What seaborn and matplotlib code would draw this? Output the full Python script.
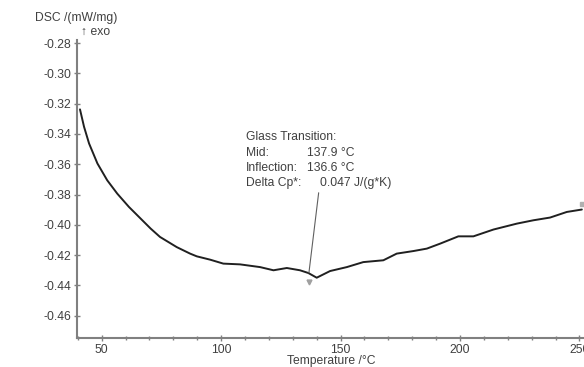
import numpy as np
import pandas as pd
import matplotlib
matplotlib.use('Agg')
import matplotlib.pyplot as plt
import seaborn as sns
from matplotlib.ticker import MultipleLocator

# DSC curve
temperature = [40.9, 42.6, 44.7, 48.2, 52.3, 56.5, 61.4, 66.3, 70.5, 74.4,
               81.4, 87.0, 89.8, 95.4, 100.9, 107.9, 116.3, 121.9, 127.5, 133.0,
               136.5, 140.0, 145.6, 152.6, 159.5, 167.9, 173.5, 180.5, 186.1, 191.7,
               199.3, 205.6, 214.0, 223.8, 230.7, 237.7, 244.7, 251.0]
dsc = [-0.3238, -0.3353, -0.3463, -0.3595, -0.3706, -0.3794, -0.3882, -0.3959, -0.4025, -0.4080,
       -0.4147, -0.4190, -0.4208, -0.4230, -0.4256, -0.4261, -0.4279, -0.4300, -0.4285, -0.4300,
       -0.4318, -0.4349, -0.4305, -0.4279, -0.4246, -0.4234, -0.4190, -0.4173, -0.4157, -0.4124,
       -0.4076, -0.4076, -0.4031, -0.3992, -0.3970, -0.3952, -0.3915, -0.3899]

annot_lines = ['Glass Transition:', 'Mid:', 'Inflection:', 'Delta Cp*:']
annot_values = ['', '137.9 °C', '136.6 °C', '0.047 J/(g*K)']

df = pd.DataFrame({'Temperature': temperature, 'DSC': dsc})

sns.set_style('ticks')
plt.rcParams['font.family'] = ['Liberation Sans', 'DejaVu Sans']
grey = '#404040'
fs = 8.7

fig = plt.figure(figsize=(5.84, 3.67), dpi=100)
ax = fig.add_axes([77 / 584, 1 - 338 / 367, 1 - 77 / 584, (338 - 40) / 367])

sns.lineplot(data=df, x='Temperature', y='DSC', ax=ax, color='#202020', linewidth=1.4)

ax.set_xlim(39.65, 251.9)
ax.set_ylim(-0.4747, -0.278)
ax.xaxis.set_major_locator(MultipleLocator(50))
ax.xaxis.set_minor_locator(MultipleLocator(10))
ax.yaxis.set_major_locator(MultipleLocator(0.02))
ax.yaxis.set_major_formatter(matplotlib.ticker.FormatStrFormatter('%.2f'))
ax.tick_params(which='both', direction='inout', colors='#808080', labelcolor=grey, labelsize=fs)
ax.tick_params(which='major', length=4, width=1, pad=2)
ax.tick_params(which='minor', length=2.5, width=1)
ax.set_xlabel('')
ax.set_ylabel('')
for s in ['top', 'right']:
    ax.spines[s].set_visible(False)
for s in ['left', 'bottom']:
    ax.spines[s].set_color('#808080')
    ax.spines[s].set_linewidth(1.5)

fig.text(35 / 584, 1 - 18 / 367, 'DSC /(mW/mg)', fontsize=fs, color=grey, va='center', ha='left')
fig.text(81 / 584, 1 - 32 / 367, '↑ exo', fontsize=fs, color=grey, va='center', ha='left')
fig.text(287 / 584, 1 - 361 / 367, 'Temperature /°C', fontsize=fs, color=grey, va='center', ha='left')

# glass transition annotation
ys = [137, 153, 168, 183]
for lab, yp in zip(annot_lines, ys):
    fig.text(246 / 584, 1 - yp / 367, lab, fontsize=fs, color=grey, va='center', ha='left')
vx = [0, 307, 307, 320]
for val, xp, yp in zip(annot_values, vx, ys):
    if val:
        fig.text(xp / 584, 1 - yp / 367, val, fontsize=fs, color=grey, va='center', ha='left')

ax.annotate('', xy=(136.6, -0.4335), xycoords='data',
            xytext=(319 / 584, 1 - 190 / 367), textcoords='figure fraction',
            arrowprops=dict(arrowstyle='-', color='#606060', lw=0.8))
ax.plot([136.6], [-0.4375], marker='v', color='#a0a0a0', markersize=3.5)
ax.plot([251.0], [-0.3862], marker='s', color='#b0b0b0', markersize=3, clip_on=False)

fig.savefig('out.png', dpi=100)
